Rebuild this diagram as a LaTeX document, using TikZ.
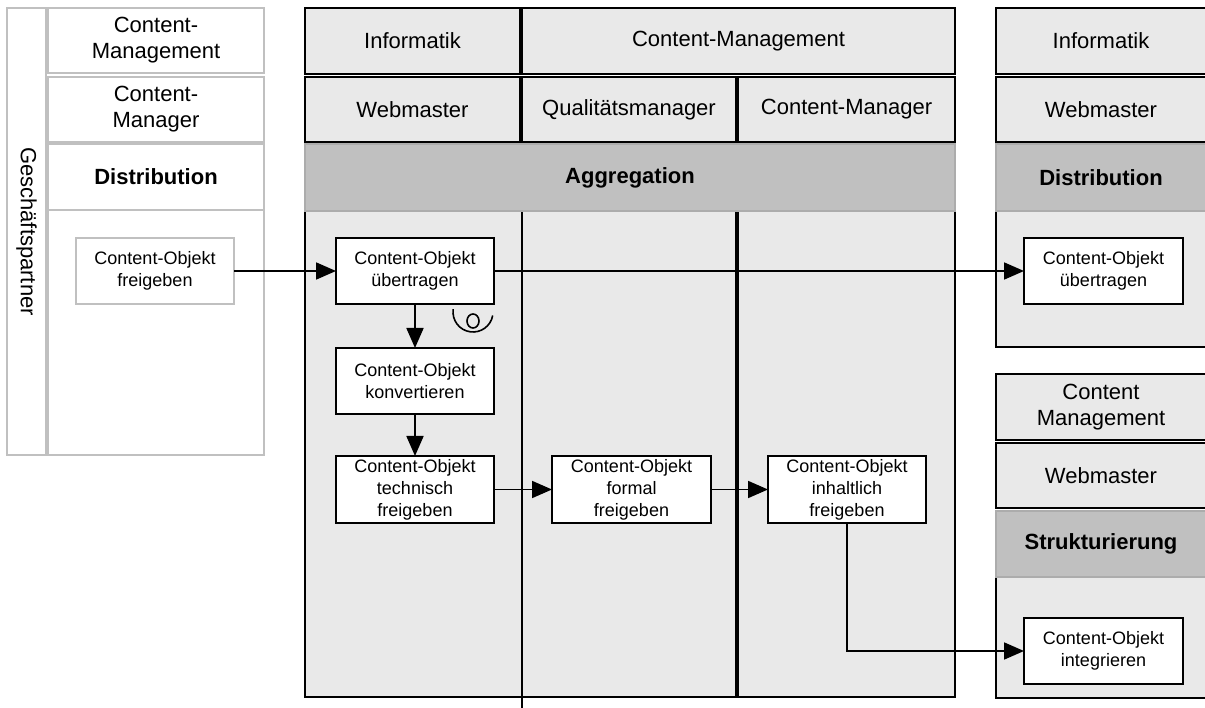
\documentclass[tikz,border=0pt]{standalone}
\usepackage{fontspec}
\setmainfont{Liberation Sans}
\usetikzlibrary{arrows.meta}

\definecolor{hdrgray}{RGB}{233,233,233}
\definecolor{bandgray}{RGB}{192,192,192}
\definecolor{bandline}{RGB}{172,172,172}
\definecolor{gpline}{RGB}{192,192,192}
\newcommand{\hdrsize}{\fontsize{22}{26}\selectfont}
\newcommand{\tasksize}{\fontsize{18}{22}\selectfont}

\tikzset{
  cell/.style={rectangle, inner sep=0pt, outer sep=0pt, align=center, font=\hdrsize},
  hdr/.style={cell, draw=black, line width=2pt, fill=hdrgray},
  band/.style={cell, draw=bandline, line width=1.4pt, fill=bandgray, font=\hdrsize\bfseries},
  lane/.style={cell, draw=black, line width=2pt, fill=hdrgray},
  gpcell/.style={cell, draw=gpline, line width=2pt, fill=white},
  task/.style={cell, draw=black, line width=1.8pt, fill=white, font=\tasksize,
    minimum width=158pt, minimum height=66pt},
  gptask/.style={task, draw=gpline},
  flow/.style={line width=1.8pt, -{Triangle[length=20pt,width=17pt]}},
}

\begin{document}
\begin{tikzpicture}[x=1pt,y=-1pt]
\useasboundingbox (0,0) rectangle (1205,708);

% Geschaeftspartner
\node[gpcell, rotate=-90, minimum width=447pt, minimum height=39pt] (gp) at (26.5,231.5) {Geschäftspartner};
\node[gpcell, minimum width=216pt, minimum height=65pt] (gpcm) at (156,40.5) {Content-\\Management};
\node[gpcell, minimum width=216pt, minimum height=65pt] (gpcmr) at (156,109.5) {Content-\\Manager};
\node[gpcell, minimum width=216pt, minimum height=66pt, font=\hdrsize\bfseries] (gpdist) at (156,177) {Distribution};
\node[gpcell, minimum width=216pt, minimum height=245pt] (gplane) at (156,332.5) {};
\node[gptask] (gpfrei) at (155,271) {Content-Objekt\\freigeben};

% Aggregation
\node[lane, minimum width=431pt, minimum height=486pt] (lane12) at (520.5,454) {};
\node[lane, minimum width=217pt, minimum height=486pt] (lane3) at (846.5,454) {};
\coordinate (divtop) at (522,211);
\coordinate (divbot) at (522,708);
\draw[line width=2pt] (divtop) -- (divbot);

\node[hdr, minimum width=215pt, minimum height=66pt] (inf) at (412.5,41) {Informatik};
\node[hdr, minimum width=433pt, minimum height=66pt] (cm) at (738.5,41) {Content-Management};
\node[hdr, minimum width=215pt, minimum height=65pt] (wm) at (412.5,109.5) {Webmaster};
\node[hdr, minimum width=214pt, minimum height=65pt] (qm) at (629,109.5) {Qualitätsmanager};
\node[hdr, minimum width=217pt, minimum height=65pt] (cmr) at (846.5,109.5) {Content-Manager};
\node[band, minimum width=650pt, minimum height=67pt] (agg) at (630,177.5) {Aggregation};

\node[task] (ueb) at (415,271) {Content-Objekt\\übertragen};
\node[task] (konv) at (415,381) {Content-Objekt\\konvertieren};
\node[task, minimum height=67pt] (tech) at (415,489.5) {Content-Objekt\\technisch\\freigeben};
\node[task, minimum width=159pt, minimum height=67pt] (form) at (631.5,489.5) {Content-Objekt\\formal\\freigeben};
\node[task, minimum height=67pt] (inh) at (847,489.5) {Content-Objekt\\inhaltlich\\freigeben};

\draw[line width=1.6pt] (473,321) ellipse[x radius=6pt, y radius=7pt];
\draw[line width=1.6pt] (473,312) ++(172:20pt) arc[start angle=172, end angle=350, radius=20pt];

% Distribution
\node[hdr, minimum width=210pt, minimum height=66pt] (rinf) at (1101,41) {Informatik};
\node[hdr, minimum width=210pt, minimum height=65pt] (rwm) at (1101,109.5) {Webmaster};
\node[lane, minimum width=210pt, minimum height=136pt] (rlane) at (1101,279) {};
\node[band, minimum width=210pt, minimum height=67pt] (rdist) at (1101,177.5) {Distribution};
\node[task, minimum width=159pt] (rueb) at (1103.5,271) {Content-Objekt\\übertragen};

% Strukturierung
\node[hdr, minimum width=210pt, minimum height=66pt] (rcm) at (1101,407) {Content\\Management};
\node[hdr, minimum width=210pt, minimum height=65pt] (rwm2) at (1101,475.5) {Webmaster};
\node[lane, minimum width=210pt, minimum height=121pt] (rlane2) at (1101,637.5) {};
\node[band, minimum width=210pt, minimum height=66pt] (rstr) at (1101,544) {Strukturierung};
\node[task, minimum width=159pt] (integ) at (1103.5,651) {Content-Objekt\\integrieren};

\draw[flow] (gpfrei) -- (ueb);
\draw[flow] (ueb) -- (rueb);
\draw[flow] (ueb) -- (konv);
\draw[flow] (konv) -- (tech);
\draw[flow] (tech) -- (form);
\draw[flow] (form) -- (inh);
\draw[flow] (inh) |- (integ);
\end{tikzpicture}
\end{document}
